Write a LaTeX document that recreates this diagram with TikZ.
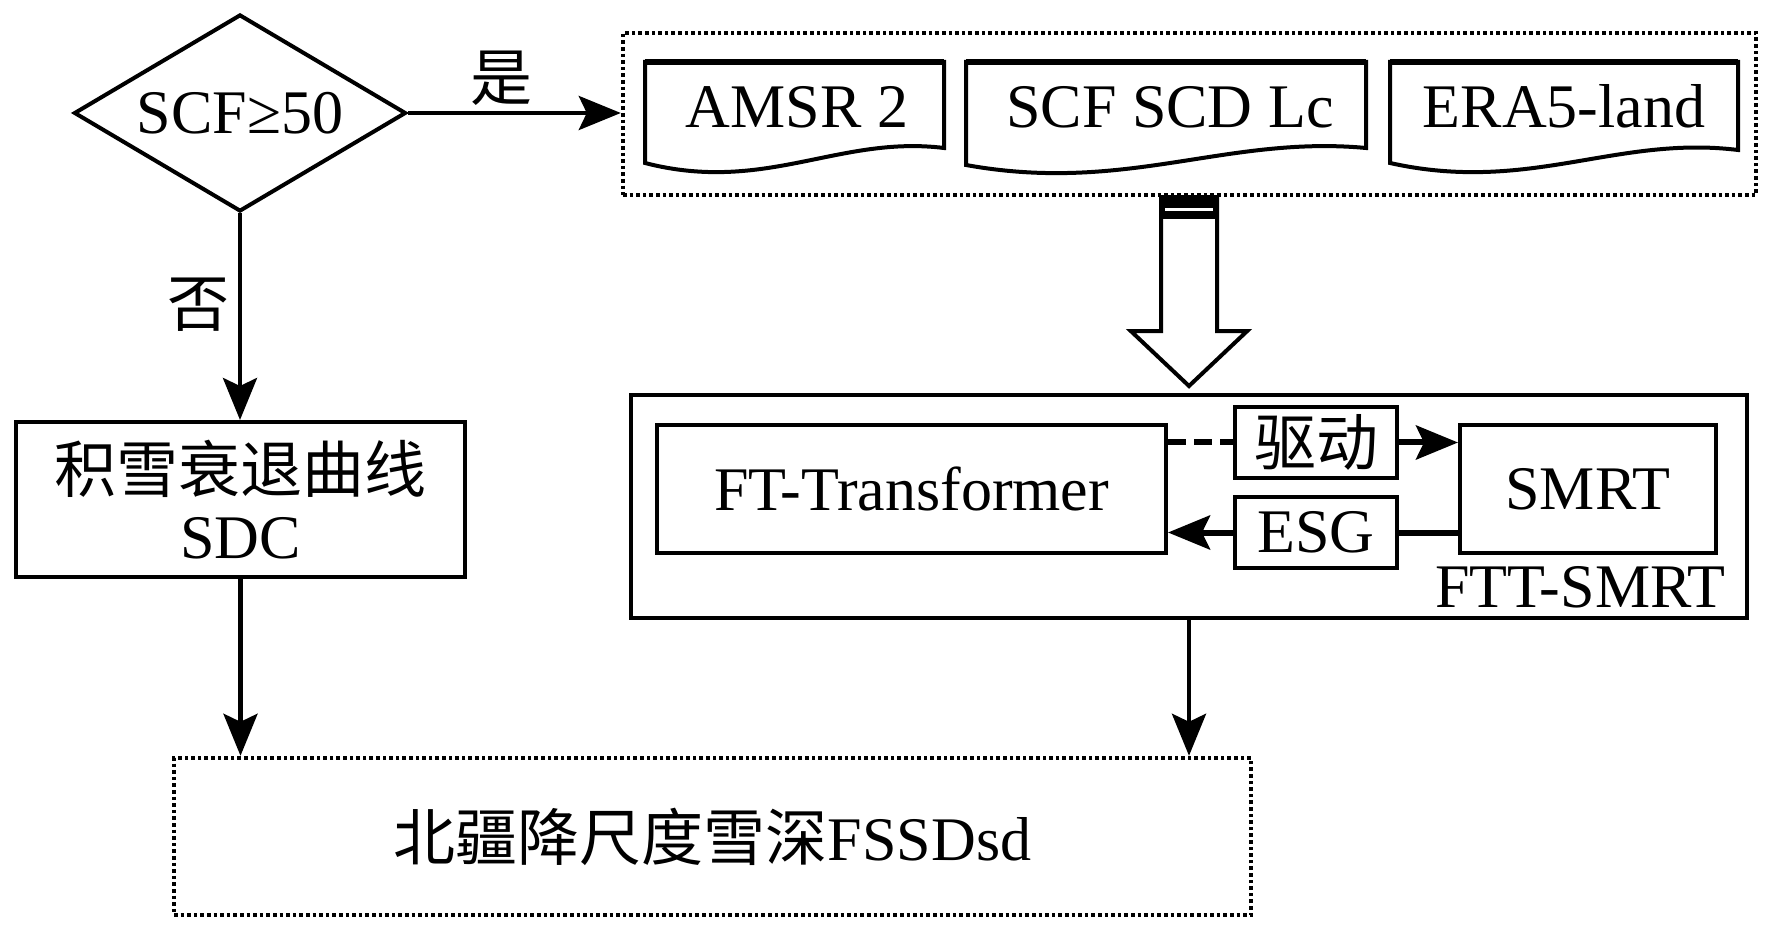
\documentclass[tikz,border=0pt]{standalone}
\usepackage{fontspec}
\setmainfont{Liberation Serif}
\newfontfamily\cjk{Noto Sans CJK SC}
\usetikzlibrary{shapes.geometric,arrows.meta,calc}
\begin{document}
\begin{tikzpicture}[x=0.5pt,y=-0.5pt, line join=miter,
  txt/.style={font=\fontsize{31}{33}\selectfont, inner sep=0pt},
  frame/.style={txt, draw, line width=2pt, align=center},
  dotframe/.style={txt, draw, line width=2.2pt, dash pattern=on 1.8pt off 1.5pt},
  tip/.style={-{Stealth[length=21pt,width=17pt,inset=4pt]}},
  conn/.style={line width=2.2pt, tip},
  inner/.style={line width=3pt},
  docline/.style={draw, line width=2pt, fill=white}]
\useasboundingbox (0,0) rectangle (1772,935);

% decision
\node[frame, diamond, aspect=1.685, minimum width=166pt, minimum height=98.5pt] (dia) at (240,113) {SCF≥50};

% left box
\node[frame, minimum width=224.5pt, minimum height=77.5pt] (sdc) at (240.5,499.5) {{\cjk 积雪衰退曲线}\\SDC};

% bottom output box
\node[dotframe, minimum width=538.5pt, minimum height=78.5pt] (out) at (712.5,836.5) {{\cjk 北疆降尺度雪深}FSSDsd};

% input data group
\node[dotframe, minimum width=566.5pt, minimum height=81pt] (inp) at (1189.5,114) {};
\draw[docline] (645,62) -- (944,62) -- (944,148) .. controls (839,135) and (765,194) .. (645,163) -- cycle;
\draw[docline] (966,62) -- (1366,62) -- (1366,148) .. controls (1226,135) and (1126,194) .. (966,165) -- cycle;
\draw[docline] (1390,62) -- (1738,62) -- (1738,150) .. controls (1616,135) and (1529,194) .. (1390,163) -- cycle;
\draw[line width=3pt] (645,62) -- (944,62) (966,62) -- (1366,62) (1390,62) -- (1738,62);
\node[txt, anchor=base] (amsr) at (797,128) {AMSR 2};
\node[txt, anchor=base] (scf) at (1170,128) {SCF SCD Lc};
\node[txt, anchor=base] (era) at (1564,128) {ERA5-land};

% FTT-SMRT group
\node[frame, minimum width=558pt, minimum height=111.5pt] (ftt) at (1189,506.5) {};
\node[frame, minimum width=254.5pt, minimum height=64pt] (ftb) at (911.5,489) {FT-Transformer};
\node[frame, minimum width=128pt, minimum height=64pt] (smrt) at (1588,489) {SMRT};
\node[frame, minimum width=81pt, minimum height=35.5pt] (qd) at (1316,442.5) {\cjk 驱动};
\node[frame, minimum width=81pt, minimum height=35.5pt] (esg) at (1316,532.5) {ESG};
\node[txt, anchor=base east] (fttl) at (1726,607) {FTT-SMRT};

% hollow arrow
\coordinate (hs) at (inp.south -| ftt.north);
\draw[line width=2pt, fill=white] ($(hs)+(-28,0)$) -- ($(hs)+(28,0)$) -- ($(hs)+(28,134)$) -- ($(hs)+(58,134)$) -- ($(ftt.north)+(0,-7)$) -- ($(hs)+(-58,134)$) -- ($(hs)+(-28,134)$) -- cycle;
\fill ($(hs)+(-29,-1)$) rectangle ($(hs)+(29,22)$);
\draw[white, line width=1.5pt] ($(hs)+(-24,12)$) -- ($(hs)+(24,12)$);

% labels
\node[txt, font=\cjk\fontsize{31}{33}\selectfont] (lyes) at (501,78) {是};
\node[txt, font=\cjk\fontsize{31}{33}\selectfont] (lno) at (198,305) {否};

% connectors
\draw[conn] (dia.east) -- (dia.east -| inp.west);
\draw[conn] (dia.south) -- (dia.south |- sdc.north);
\draw[conn] (sdc.south) -- (sdc.south |- out.north);
\draw[conn] (ftt.south) -- (ftt.south |- out.north);
\draw[inner, dash pattern=on 9pt off 4pt] (qd.west -| ftb.east) -- (qd.west);
\draw[inner, tip] (qd.east) -- (qd.east -| smrt.west);
\draw[inner] (esg.east -| smrt.west) -- (esg.east);
\draw[inner, tip] (esg.west) -- (esg.west -| ftb.east);
\end{tikzpicture}
\end{document}
